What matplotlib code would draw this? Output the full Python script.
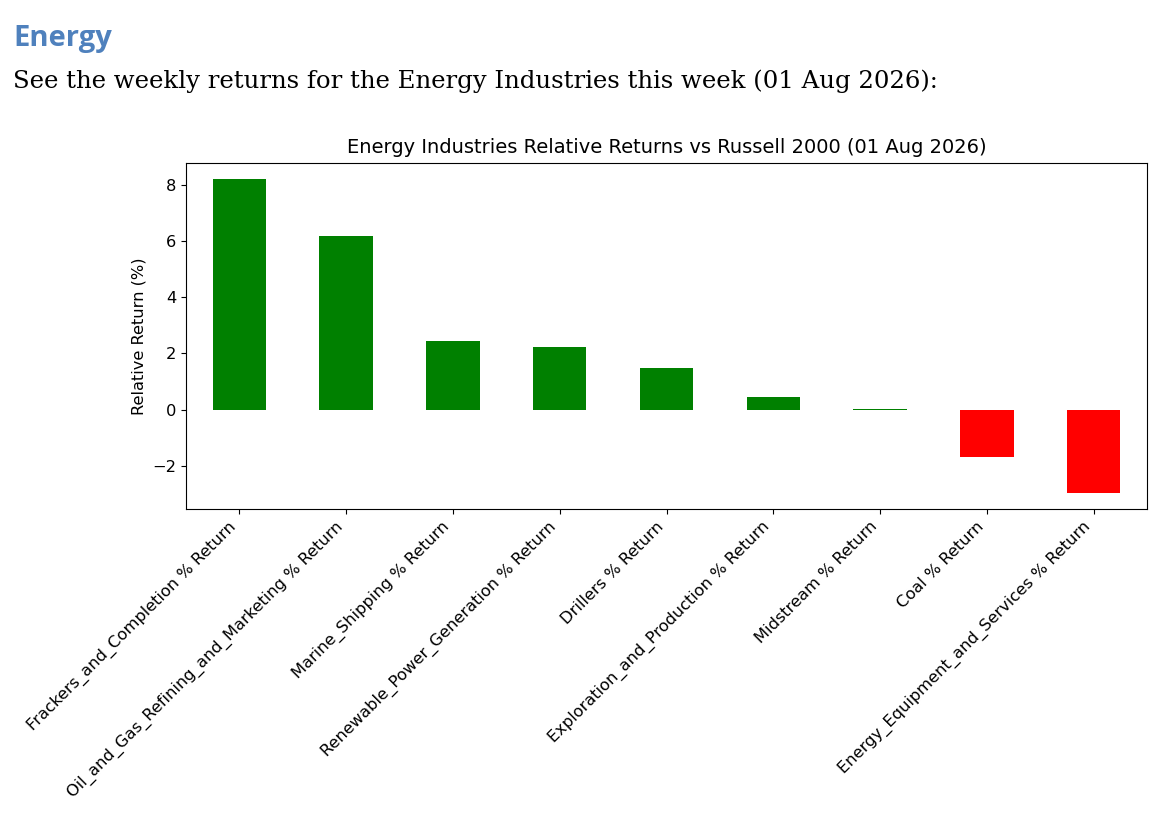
import numpy as np
import matplotlib.pyplot as plt

industries = [
    "Frackers_and_Completion % Return",
    "Oil_and_Gas_Refining_and_Marketing % Return",
    "Marine_Shipping % Return",
    "Renewable_Power_Generation % Return",
    "Drillers % Return",
    "Exploration_and_Production % Return",
    "Midstream % Return",
    "Coal % Return",
    "Energy_Equipment_and_Services % Return",
]
returns = [8.21, 6.16, 2.44, 2.24, 1.47, 0.43, 0.03, -1.70, -2.98]

colors = ["green" if r >= 0 else "red" for r in returns]

fig = plt.figure(figsize=(11.66, 8.21), dpi=100)

# page heading above the chart
fig.text(13 / 1166, 1 - 46 / 821, "Energy", fontsize=21, fontweight="bold",
         color="#4F81BD", family="Open Sans")
fig.text(13 / 1166, 1 - 88 / 821,
         "See the weekly returns for the Energy Industries this week (01 Aug 2026):",
         fontsize=17.6, family="DejaVu Serif", color="black")

ax = fig.add_axes([186 / 1166, 1 - 509 / 821, (1147 - 186) / 1166, (509 - 163) / 821])
x = np.arange(len(industries))
ax.bar(x, returns, width=0.5, color=colors)
ax.set_xlim(-0.5, len(industries) - 0.5)
ax.set_xticks(x)
ax.set_xticklabels(industries, rotation=45, ha="right", fontsize=11.7)
ax.tick_params(axis="y", labelsize=11.7)
ax.set_ylabel("Relative Return (%)", fontsize=11.7)
ax.set_title("Energy Industries Relative Returns vs Russell 2000 (01 Aug 2026)",
             fontsize=14, pad=7)

fig.savefig("out.png", dpi=100)
